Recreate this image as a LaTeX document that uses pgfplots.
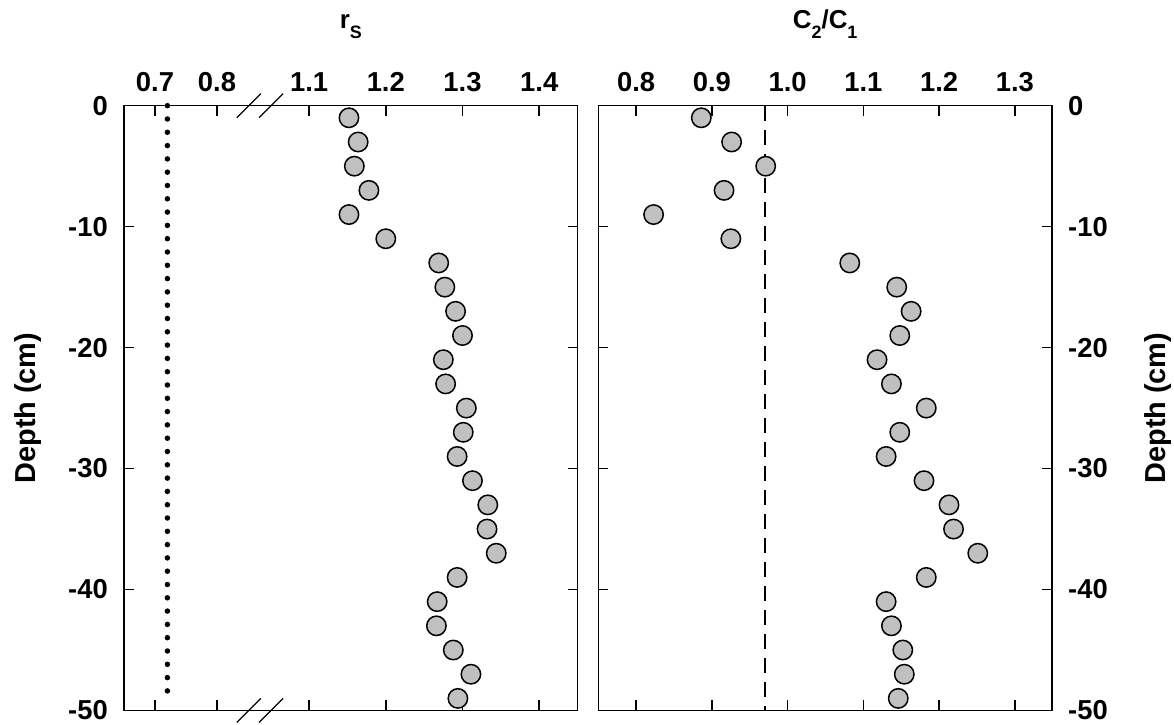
\documentclass[border=0pt]{standalone}
\usepackage{pgfplots}
\usepackage{pgfplotstable}
\pgfplotsset{compat=1.18}
\usepackage{fontspec}
\setmainfont{Liberation Sans}
\definecolor{mk}{HTML}{C0C0C0}

\pgfplotstableread{
d rs c
-1 1.152 0.886
-3 1.164 0.926
-5 1.159 0.971
-7 1.178 0.916
-9 1.152 0.823
-11 1.200 0.925
-13 1.269 1.082
-15 1.277 1.144
-17 1.291 1.163
-19 1.300 1.148
-21 1.275 1.118
-23 1.278 1.137
-25 1.305 1.183
-27 1.301 1.148
-29 1.293 1.130
-31 1.313 1.180
-33 1.333 1.213
-35 1.332 1.219
-37 1.344 1.251
-39 1.293 1.183
-41 1.267 1.130
-43 1.266 1.137
-45 1.288 1.152
-47 1.311 1.154
-49 1.294 1.146
}\data

\pgfplotsset{
  panel/.style={
    scale only axis, width=453.7bp, height=604.8bp,
    anchor=south west,
    ymin=-50, ymax=0,
    axis line style={line width=1.5bp},
    tick align=inside, major tick length=10bp,
    every tick/.style={black, line width=1.5bp},
    xtick pos=both, xticklabel pos=top,
    ytick={-50,-40,-30,-20,-10,0},
    yticklabels={-50,-40,-30,-20,-10,0},
    ytick pos=both,
    tick label style={font=\fontsize{27.5}{27.5}\selectfont\bfseries},
    xticklabel style={anchor=base, yshift=13.7bp, inner sep=0pt},
    label style={font=\fontsize{29}{29}\selectfont\bfseries},
    title style={at={(axis description cs:0.5,1)}, anchor=base, yshift=71bp, inner sep=0pt},
  },
  dots/.style={only marks, mark=*, mark size=9.7bp,
    mark options={fill=mk, draw=black, line width=1.5bp}},
}

\begin{document}
\begin{tikzpicture}
\path[use as bounding box] (0,0) rectangle (1174bp,725bp);

% left panel, right segment (main frame)
\begin{axis}[panel, at={(124bp,14.5bp)},
  xmin=0.8587, xmax=1.4502,
  xtick={1.1,1.2,1.3,1.4}, xticklabels={1.1,1.2,1.3,1.4},
  yticklabel pos=left,
  yticklabel style={anchor=east, xshift=-16bp, inner sep=0pt},
  ylabel={Depth (cm)},
  ylabel style={at={(axis description cs:-0.2122,0.5)}, anchor=center},
  title={\fontsize{26}{26}\selectfont\bfseries r\raisebox{-10bp}{\fontsize{18}{18}\selectfont S}},
  clip=false]
\addplot[dots] table[x=rs, y=d] {\data};
\draw[line width=1.3bp] (axis cs:1.0214,0) ++(-12bp,-12bp) -- ++(24bp,24bp);
\draw[line width=1.3bp] (axis cs:1.0504,0) ++(-12bp,-12bp) -- ++(24bp,24bp);
\draw[line width=1.3bp] (axis cs:1.0214,-50) ++(-12bp,-12bp) -- ++(24bp,24bp);
\draw[line width=1.3bp] (axis cs:1.0504,-50) ++(-12bp,-12bp) -- ++(24bp,24bp);
\end{axis}

% left panel, left segment (own scale)
\begin{axis}[panel, at={(124bp,14.5bp)},
  xmin=0.65, xmax=1.3815,
  axis line style={draw=none},
  xtick={0.7,0.8}, xticklabels={0.7,0.8},
  ytick=\empty,
  clip=false]
\addplot[black, line width=5.5bp, line cap=round, dash pattern=on 0bp off 13.3bp]
  coordinates {(0.72,0) (0.72,-49.4)};
\end{axis}

% right panel
\begin{axis}[panel, at={(598.3bp,14.5bp)},
  xmin=0.75, xmax=1.349,
  xtick={0.8,0.9,1.0,1.1,1.2,1.3}, xticklabels={0.8,0.9,1.0,1.1,1.2,1.3},
  yticklabel pos=right,
  yticklabel style={anchor=west, xshift=16bp, inner sep=0pt},
  ylabel={Depth (cm)},
  ylabel style={at={(axis description cs:1.234,0.5)}, anchor=center},
  title={\fontsize{26}{26}\selectfont\bfseries C\raisebox{-10bp}{\fontsize{18}{18}\selectfont 2}/C\raisebox{-10bp}{\fontsize{18}{18}\selectfont 1}},
  clip=false]
\addplot[dots] table[x=c, y=d] {\data};
\addplot[black, line width=1.3bp, dash pattern=on 15bp off 9bp]
  coordinates {(0.97,0) (0.97,-50)};
\end{axis}
\end{tikzpicture}
\end{document}
